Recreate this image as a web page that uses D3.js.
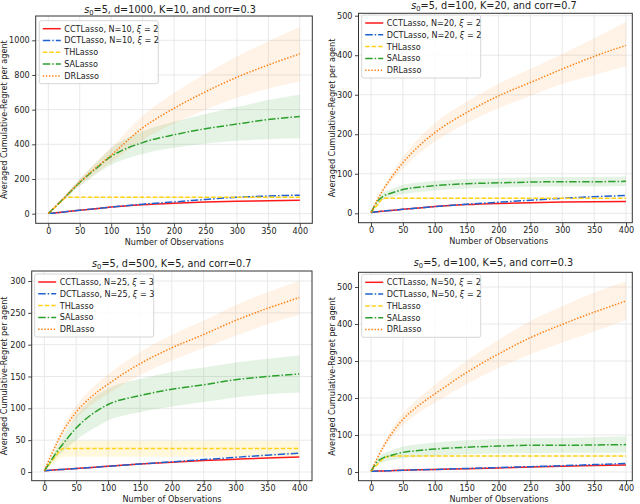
<!DOCTYPE html>
<html><head><meta charset="utf-8">
<script src="https://cdn.jsdelivr.net/npm/d3@7"></script>
<style>
body{margin:0;background:#fff}
svg{display:block}
text{font-family:"DejaVu Sans",sans-serif;fill:#222}
</style>
</head><body><svg id="c" width="640" height="504"></svg>
<script>
// ---------- data ----------
const steps = [0, 10, 20, 30, 50, 75, 100, 150, 200, 250, 300, 350, 400];
const seriesNames = ["CCTLasso", "DCTLasso", "THLasso", "SALasso", "DRLasso"];
const xTicks = [0, 50, 100, 150, 200, 250, 300, 350, 400];
const yTicks1 = [0, 200, 400, 600, 800, 1000];
const yTicks2 = [0, 100, 200, 300, 400, 500];
const yTicks3 = [0, 50, 100, 150, 200, 250, 300];
const yTicks4 = [0, 100, 200, 300, 400, 500];
const titleRest = ["=5, d=1000, K=10, and corr=0.3", "=5, d=100, K=20, and corr=0.7",
                   "=5, d=500, K=5, and corr=0.7", "=5, d=100, K=5, and corr=0.3"];
const agentsN = [10, 20, 25, 50];
const xiValues = [2, 2, 3, 2];
const xLabel = "Number of Observations";
const yLabel = "Averaged Cumulative-Regret per agent";

// panel 1: s0=5, d=1000, K=10, corr=0.3
const p1_CCT = [2, 4, 8, 12, 20, 29, 38, 51, 60, 67, 72, 75, 77];
const p1_DCT = [2, 4, 8, 12, 20, 29, 38, 55, 68, 82, 95, 102, 107];
const p1_TH = [2, 34, 68, 95, 95, 95, 95, 95, 95, 95, 95, 95, 95];
const p1_TH_lo = [2, 32, 65, 91, 91, 91, 91, 91, 91, 91, 91, 91, 91];
const p1_TH_hi = [2, 36, 71, 99, 99, 99, 99, 99, 99, 99, 99, 99, 99];
const p1_SA = [2, 36, 72, 108, 180, 258, 330, 410, 455, 490, 517, 543, 560];
const p1_SA_lo = [2, 33, 65, 97, 160, 225, 282, 345, 380, 405, 420, 430, 435];
const p1_SA_hi = [2, 39, 79, 119, 200, 291, 378, 475, 530, 575, 615, 655, 688];
const p1_DR = [2, 37, 73, 109, 182, 263, 338, 495, 608, 703, 787, 858, 922];
const p1_DR_lo = [2, 34, 66, 98, 162, 232, 295, 425, 520, 600, 668, 722, 762];
const p1_DR_hi = [2, 40, 80, 120, 202, 294, 381, 565, 696, 806, 906, 994, 1078];

// panel 2: s0=5, d=100, K=20, corr=0.7
const p2_CCT = [2, 4, 5.5, 7, 10, 13.5, 17, 22, 25, 27, 28.5, 29.5, 30];
const p2_DCT = [2, 4, 5.5, 7, 10, 13.5, 17, 23, 28, 33, 38, 42, 45];
const p2_TH = [2, 21, 38, 38, 38, 38, 38, 38, 38, 38, 38, 38, 38];
const p2_TH_lo = [2, 20, 36, 36, 36, 36, 36, 36, 36, 36, 36, 36, 36];
const p2_TH_hi = [2, 22, 40, 40, 40, 40, 40, 40, 40, 40, 40, 40, 40];
const p2_SA = [2, 30, 44, 50, 60, 66, 70, 75, 77, 79, 80, 80, 81];
const p2_SA_lo = [2, 24, 35, 40, 48, 54, 58, 63, 65, 67, 68, 68, 69];
const p2_SA_hi = [2, 36, 53, 60, 72, 78, 82, 87, 89, 91, 92, 92, 93];
const p2_DR = [2, 34, 62, 86, 128, 170, 204, 255, 297, 331, 365, 397, 425];
const p2_DR_lo = [2, 31, 56, 77, 114, 151, 181, 228, 266, 297, 327, 350, 372];
const p2_DR_hi = [2, 37, 68, 95, 143, 190, 228, 282, 328, 365, 403, 443, 485];

// panel 3: s0=5, d=500, K=5, corr=0.7
const p3_CCT = [2, 2.7, 3.4, 4.1, 5.5, 7.2, 9, 12.5, 15.5, 18, 20, 22, 23.5];
const p3_DCT = [2, 2.7, 3.4, 4.1, 5.5, 7.2, 9, 12.5, 16, 19.5, 23, 26.5, 29.5];
const p3_TH = [2, 15, 28, 37, 37, 37, 37, 37, 37, 37, 37, 37, 37];
const p3_TH_lo = [2, 10, 18, 24, 24, 24, 24, 24, 24, 24, 24, 24, 24];
const p3_TH_hi = [2, 20, 38, 49, 49, 49, 49, 49, 49, 49, 49, 49, 49];
const p3_SA = [2, 17, 32, 45, 69, 91, 106, 120, 130, 137, 145, 150, 154];
const p3_SA_lo = [2, 13, 24, 33, 50, 67, 81, 94, 103, 110, 117, 122, 125];
const p3_SA_hi = [2, 21, 40, 57, 88, 115, 131, 146, 157, 164, 172, 178, 183];
const p3_DR = [2, 25, 46, 65, 94, 119, 138, 170, 195, 216, 238, 257, 274];
const p3_DR_lo = [2, 22, 41, 58, 84, 106, 123, 152, 175, 195, 214, 232, 247];
const p3_DR_hi = [2, 28, 51, 72, 104, 132, 153, 188, 215, 238, 262, 282, 300];

// panel 4: s0=5, d=100, K=5, corr=0.3
const p4_CCT = [2, 2.5, 3, 3.5, 4.5, 6, 7, 9, 11, 13.5, 15.5, 17.5, 19];
const p4_DCT = [2, 2.5, 3, 3.5, 4.5, 6, 7, 9.5, 12, 14.5, 17, 20, 23];
const p4_TH = [2, 20, 37, 43, 43, 43, 43, 43, 43, 43, 43, 43, 43];
const p4_TH_lo = [2, 19, 35, 41, 41, 41, 41, 41, 41, 41, 41, 41, 41];
const p4_TH_hi = [2, 21, 39, 45, 45, 45, 45, 45, 45, 45, 45, 45, 45];
const p4_SA = [2, 28, 39, 44, 53, 58, 62, 67, 70, 72, 72, 73, 74];
const p4_SA_lo = [2, 20, 27, 31, 37, 41, 44, 48, 50, 51, 52, 52, 53];
const p4_SA_hi = [2, 36, 51, 57, 69, 75, 80, 86, 89, 91, 92, 94, 96];
const p4_DR = [2, 38, 70, 98, 142, 180, 211, 269, 319, 363, 399, 432, 462];
const p4_DR_lo = [2, 34, 62, 87, 126, 160, 187, 237, 281, 318, 350, 380, 410];
const p4_DR_hi = [2, 42, 78, 109, 158, 200, 235, 301, 357, 408, 448, 485, 515];

// ---------- styles / layout ----------
const colors = ["#ff1a1a", "#1f62cf", "#ffd21a", "#2ca02c", "#ff7f0e"];
const dashes = [null, "7.5,2,1.5,2", "4.5,2", "7.5,2,1.5,2", "1.4,1.7"];
const bandOpacity = [0.12, 0.12, 0.15, 0.12, 0.1];

const layout = [
  {fx0: 35.7, fx1: 312.3, fy0: 16, fy1: 223.3, x0: 48.3, x400: 299.8, yv: 1000, ya: 40.3, y0: 213.7,
   titleX: 170, titleY: 12.6, xlabX: 174.2, ylabX: 7, legX: 39.3, legY: 20.7},
  {fx0: 358.5, fx1: 632.3, fy0: 13.3, fy1: 222.7, x0: 371, x400: 626, yv: 500, ya: 15.7, y0: 213.3,
   titleX: 494, titleY: 9.4, xlabX: 498.7, ylabX: 335, legX: 361.7, legY: 15},
  {fx0: 31.7, fx1: 312, fy0: 271, fy1: 480.7, x0: 44.3, x400: 299.3, yv: 300, ya: 281, y0: 472,
   titleX: 171.7, titleY: 266.6, xlabX: 172, ylabX: 7, legX: 34.7, legY: 274},
  {fx0: 358.5, fx1: 632.3, fy0: 272.3, fy1: 480.7, x0: 371, x400: 626, yv: 500, ya: 287, y0: 472,
   titleX: 493.5, titleY: 266.2, xlabX: 499, ylabX: 335, legX: 361.7, legY: 274.3}
];

const panels = [
  {yTicks: yTicks1, mean: [p1_CCT, p1_DCT, p1_TH, p1_SA, p1_DR],
   lo: [null, null, p1_TH_lo, p1_SA_lo, p1_DR_lo], hi: [null, null, p1_TH_hi, p1_SA_hi, p1_DR_hi]},
  {yTicks: yTicks2, mean: [p2_CCT, p2_DCT, p2_TH, p2_SA, p2_DR],
   lo: [null, null, p2_TH_lo, p2_SA_lo, p2_DR_lo], hi: [null, null, p2_TH_hi, p2_SA_hi, p2_DR_hi]},
  {yTicks: yTicks3, mean: [p3_CCT, p3_DCT, p3_TH, p3_SA, p3_DR],
   lo: [null, null, p3_TH_lo, p3_SA_lo, p3_DR_lo], hi: [null, null, p3_TH_hi, p3_SA_hi, p3_DR_hi]},
  {yTicks: yTicks4, mean: [p4_CCT, p4_DCT, p4_TH, p4_SA, p4_DR],
   lo: [null, null, p4_TH_lo, p4_SA_lo, p4_DR_lo], hi: [null, null, p4_TH_hi, p4_SA_hi, p4_DR_hi]}
];

const svg = d3.select("#c");
svg.append("rect").attr("width", 640).attr("height", 504).attr("fill", "#fff");
const FS = 8.1;

panels.forEach((p, pi) => {
  const L = layout[pi];
  const x = d3.scaleLinear().domain([0, 400]).range([L.x0, L.x400]);
  const y = d3.scaleLinear().domain([0, L.yv]).range([L.y0, L.ya]);
  const g = svg.append("g");
  const clipId = "clip" + pi;
  g.append("clipPath").attr("id", clipId).append("rect")
    .attr("x", L.fx0).attr("y", L.fy0).attr("width", L.fx1 - L.fx0).attr("height", L.fy1 - L.fy0);

  // grid
  const grid = g.append("g").attr("clip-path", `url(#${clipId})`);
  grid.selectAll(".gx").data(xTicks).join("line")
    .attr("x1", d => x(d)).attr("x2", d => x(d)).attr("y1", L.fy0).attr("y2", L.fy1)
    .attr("stroke", "#e6e6e6").attr("stroke-width", 0.9);
  grid.selectAll(".gy").data(p.yTicks).join("line")
    .attr("y1", d => y(d)).attr("y2", d => y(d)).attr("x1", L.fx0).attr("x2", L.fx1)
    .attr("stroke", "#e6e6e6").attr("stroke-width", 0.9);

  const plot = g.append("g").attr("clip-path", `url(#${clipId})`);
  // bands
  p.mean.forEach((m, si) => {
    if (!p.lo[si]) return;
    const pts = steps.map((s, i) => [s, p.lo[si][i], p.hi[si][i]]);
    const area = d3.area().x(d => x(d[0])).y0(d => y(d[1])).y1(d => y(d[2])).curve(d3.curveMonotoneX);
    plot.append("path").attr("d", area(pts)).attr("fill", colors[si]).attr("fill-opacity", bandOpacity[si]);
  });
  // lines
  p.mean.forEach((m, si) => {
    const pts = steps.map((s, i) => [s, m[i]]);
    const line = d3.line().x(d => x(d[0])).y(d => y(d[1])).curve(d3.curveMonotoneX);
    const path = plot.append("path").attr("d", line(pts)).attr("fill", "none")
      .attr("stroke", colors[si]).attr("stroke-width", 1.5);
    if (dashes[si]) path.attr("stroke-dasharray", dashes[si]);
  });

  // frame
  g.append("rect").attr("x", L.fx0).attr("y", L.fy0).attr("width", L.fx1 - L.fx0).attr("height", L.fy1 - L.fy0)
    .attr("fill", "none").attr("stroke", "#333").attr("stroke-width", 1);

  // axes
  const ax = g.append("g").attr("transform", `translate(0,${L.fy1})`)
    .call(d3.axisBottom(x).tickValues(xTicks).tickSize(3.5).tickPadding(1.5).tickFormat(d3.format("d")));
  const ay = g.append("g").attr("transform", `translate(${L.fx0},0)`)
    .call(d3.axisLeft(y).tickValues(p.yTicks).tickSize(3.5).tickPadding(2.5).tickFormat(d3.format("d")));
  [ax, ay].forEach(a => {
    a.select(".domain").remove();
    a.selectAll("line").attr("stroke", "#333").attr("stroke-width", 0.9);
    a.selectAll("text").attr("font-size", FS).attr("font-family", "DejaVu Sans").attr("fill", "#222");
  });

  // title
  const t = g.append("text").attr("x", L.titleX).attr("y", L.titleY).attr("text-anchor", "middle")
    .attr("font-size", 9.7);
  t.append("tspan").attr("font-style", "italic").text("s");
  t.append("tspan").attr("font-size", 6.8).attr("dy", 2).text("0");
  t.append("tspan").attr("dy", -2).text(titleRest[pi]);

  // axis labels
  g.append("text").attr("x", L.xlabX).attr("y", L.fy1 + 21.6).attr("text-anchor", "middle")
    .attr("font-size", FS).text(xLabel);
  const cy = (L.fy0 + L.fy1) / 2;
  g.append("text").attr("transform", `translate(${L.ylabX},${cy}) rotate(-90)`).attr("text-anchor", "middle")
    .attr("font-size", FS).text(yLabel);

  // legend
  const lg = g.append("g").attr("transform", `translate(${L.legX},${L.legY})`);
  lg.append("rect").attr("width", 119).attr("height", 63).attr("rx", 2)
    .attr("fill", "#fff").attr("fill-opacity", 0.85).attr("stroke", "#cccccc").attr("stroke-width", 0.8);
  seriesNames.forEach((name, si) => {
    const ry = 8 + si * 11.8;
    const ln = lg.append("line").attr("x1", 3.5).attr("x2", 21.5).attr("y1", ry).attr("y2", ry)
      .attr("stroke", colors[si]).attr("stroke-width", 1.5);
    if (dashes[si]) ln.attr("stroke-dasharray", dashes[si]);
    const tx = lg.append("text").attr("x", 25).attr("y", ry + 2.9).attr("font-size", FS);
    if (si < 2) {
      tx.append("tspan").text(`${name}, N=${agentsN[pi]}, `);
      tx.append("tspan").attr("font-style", "italic").text("ξ");
      tx.append("tspan").text(` = ${xiValues[pi]}`);
    } else {
      tx.text(name);
    }
  });
});
</script>
</body></html>
